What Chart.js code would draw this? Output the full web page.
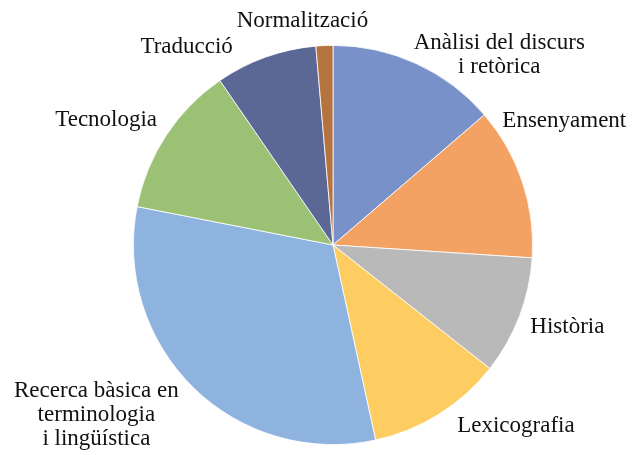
<!DOCTYPE html>
<html>
<head>
<meta charset="utf-8">
<script src="https://cdn.jsdelivr.net/npm/chart.js@4.4.1/dist/chart.umd.min.js"></script>
<style>
  html, body { margin:0; padding:0; background:#fff; }
  #wrap { width:642px; height:455px; position:relative; }
</style>
</head>
<body>
<div id="wrap"><canvas id="pie"></canvas></div>
<script>
// categories (one array of lines per label) and values, clockwise from the top
var categories = [
  ['Anàlisi del discurs', 'i retòrica'],
  ['Ensenyament'],
  ['Història'],
  ['Lexicografia'],
  ['Recerca bàsica en', 'terminologia', 'i lingüística'],
  ['Tecnologia'],
  ['Traducció'],
  ['Normalització']
];
var values = [10, 9, 7, 8, 23, 9, 6, 1];
var colors = ['#7991c9', '#f3a263', '#bab9ba', '#fecd61', '#8eb3df', '#9bc174', '#5b6795', '#b5733f'];

// label nudges from the outer edge of each slice at its middle angle
var labelNudge = [
  [83, -9], [42, -61], [48, 11], [77, 12],
  [-97, 27], [-60, -15], [-79, -10], [-22, -25]
];

var outsideLabels = {
  id: 'outsideLabels',
  afterDatasetsDraw(chart) {
    var ctx = chart.ctx;
    var meta = chart.getDatasetMeta(0);
    ctx.save();
    ctx.font = '23px "Liberation Serif", "Times New Roman", serif';
    ctx.fillStyle = '#111';
    ctx.textAlign = 'center';
    ctx.textBaseline = 'middle';
    var lineH = 24;
    meta.data.forEach((arc, i) => {
      var p = arc.getProps(['x', 'y', 'startAngle', 'endAngle', 'outerRadius'], true);
      var mid = (p.startAngle + p.endAngle) / 2;
      var ax = p.x + Math.cos(mid) * p.outerRadius + labelNudge[i][0];
      var ay = p.y + Math.sin(mid) * p.outerRadius + labelNudge[i][1];
      var lines = chart.data.labels[i];
      var y0 = ay - (lines.length - 1) * lineH / 2;
      lines.forEach((ln, k) => {
        ctx.fillText(ln, ax, y0 + k * lineH);
      });
    });
    ctx.restore();
  }
};

var chartPie = new Chart(document.getElementById('pie'), {
  type: 'pie',
  data: {
    labels: categories,
    datasets: [{
      data: values,
      backgroundColor: colors,
      borderColor: '#ffffff',
      borderWidth: 0.8
    }]
  },
  options: {
    responsive: true,
    maintainAspectRatio: false,
    animation: false,
    layout: { padding: { top: 45, bottom: 10, left: 133, right: 109 } },
    plugins: {
      legend: { display: false },
      tooltip: { enabled: false }
    }
  },
  plugins: [outsideLabels]
});
</script>
</body>
</html>
